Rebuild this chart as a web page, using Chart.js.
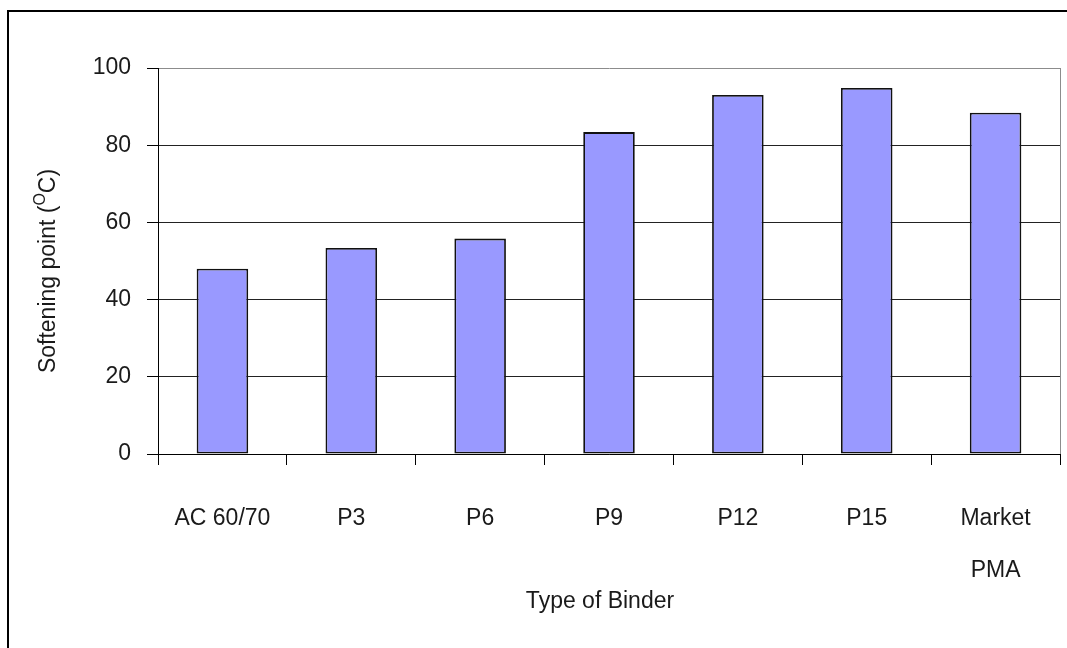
<!DOCTYPE html>
<html>
<head>
<meta charset="utf-8">
<script src="https://cdn.jsdelivr.net/npm/chart.js@4.4.1/dist/chart.umd.min.js"></script>
<style>
  html, body { margin: 0; padding: 0; background: #fff; }
  #wrap { width: 1067px; height: 648px; position: relative; }
</style>
</head>
<body>
<div id="wrap"><canvas id="softChart"></canvas></div>
<script>
// chart data
const binders = ["AC 60/70", "P3", "P6", "P9", "P12", "P15", ["Market", "PMA"]];
const softeningPoint = [48, 53.4, 55.8, 83.4, 93, 94.8, 88.4];
const yTicks = [0, 20, 40, 60, 80, 100];

const FONT = '"Liberation Sans", Arial, sans-serif';
const TEXT = "#1a1a1a";

// outer frame, gray plot border and the two axis titles
const decorations = {
  id: "decorations",
  beforeDraw(chart) {
    const c = chart.ctx;
    c.save();
    c.strokeStyle = "#000";
    c.lineWidth = 2;
    c.beginPath();
    c.moveTo(1067, 11);
    c.lineTo(8, 11);
    c.lineTo(8, 648);
    c.stroke();
    c.restore();
  },
  afterDraw(chart) {
    const c = chart.ctx;
    const area = chart.chartArea;
    c.save();
    // right edge of the plot
    c.strokeStyle = "#8c8c8c";
    c.lineWidth = 1;
    c.beginPath();
    c.moveTo(area.right + 0.5, area.top);
    c.lineTo(area.right + 0.5, area.bottom);
    c.stroke();

    // x title
    c.fillStyle = TEXT;
    c.font = "23px " + FONT;
    c.textAlign = "center";
    c.textBaseline = "middle";
    c.fillText("Type of Binder", 600, 602);

    // y title with superscript O
    const a = "Softening point (", sup = "O", b = "C)";
    c.font = "23px " + FONT;
    const wa = c.measureText(a).width;
    const wb = c.measureText(b).width;
    c.font = "16px " + FONT;
    const ws = c.measureText(sup).width;
    const total = wa + ws + wb;
    c.translate(55, 271);
    c.rotate(-Math.PI / 2);
    c.textAlign = "left";
    c.textBaseline = "alphabetic";
    let x = -total / 2;
    c.font = "23px " + FONT;
    c.fillText(a, x, 0);
    x += wa;
    c.font = "16px " + FONT;
    c.fillText(sup, x, -10);
    x += ws;
    c.font = "23px " + FONT;
    c.fillText(b, x, 0);
    c.restore();
  }
};

new Chart(document.getElementById("softChart"), {
  type: "bar",
  data: {
    labels: binders,
    datasets: [{
      data: softeningPoint,
      backgroundColor: "#9999ff",
      borderColor: "#111",
      borderWidth: 1.8,
      borderSkipped: false,
      categoryPercentage: 1,
      barPercentage: 0.4
    }]
  },
  options: {
    responsive: true,
    maintainAspectRatio: false,
    animation: false,
    layout: { padding: { left: 0, top: 68, right: 7, bottom: 0 } },
    plugins: {
      legend: { display: false },
      tooltip: { enabled: false }
    },
    scales: {
      x: {
        afterFit: (scale) => { scale.height = 194; },
        grid: {
          offset: true,
          drawOnChartArea: false,
          drawTicks: true,
          tickLength: 11,
          tickColor: "#000",
          lineWidth: 1
        },
        border: { display: true, color: "#000", width: 1 },
        ticks: {
          color: TEXT,
          padding: 28,
          maxRotation: 0,
          autoSkip: false,
          font: { family: FONT, size: 23, lineHeight: 2.26 }
        }
      },
      y: {
        min: 0,
        max: 100,
        afterFit: (scale) => { scale.width = 158; },
        afterBuildTicks: (scale) => { scale.ticks = yTicks.map(v => ({ value: v })); },
        grid: {
          color: (ctx) => (ctx.tick && ctx.tick.value === 100 ? "#8c8c8c" : "#222"),
          lineWidth: 1,
          tickLength: 11,
          tickColor: "#000"
        },
        border: { display: true, color: "#000", width: 1 },
        ticks: {
          color: TEXT,
          padding: 16,
          font: { family: FONT, size: 23 }
        }
      }
    }
  },
  plugins: [decorations]
});
</script>
</body>
</html>
